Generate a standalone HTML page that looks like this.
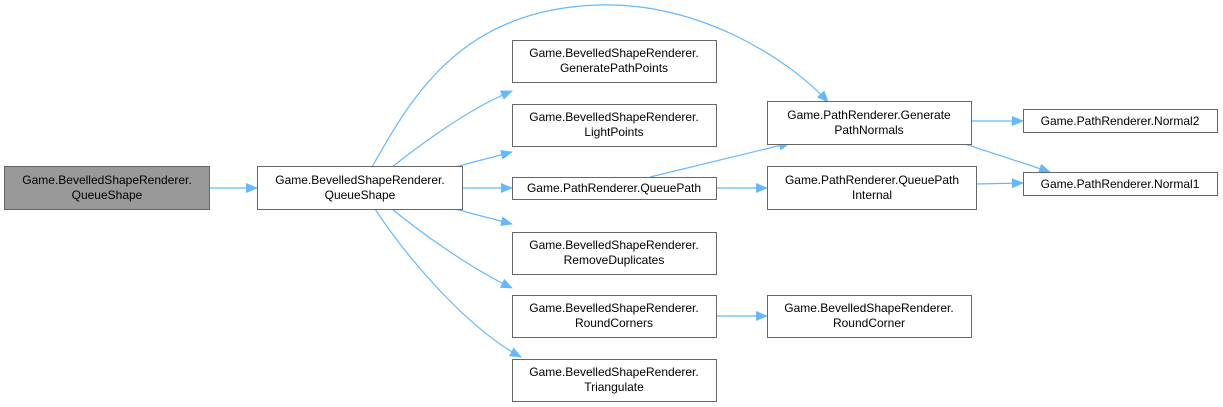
<!DOCTYPE html>
<html><head><meta charset="utf-8"><style>
html,body{margin:0;padding:0;background:#fff;}
svg{display:block;}
text{font-family:"Liberation Sans",sans-serif;font-size:12px;fill:#000;text-anchor:middle;}
rect{fill:#fff;stroke:#666;stroke-width:1;}
path.e{fill:none;stroke:#63b8ff;stroke-width:1.2;}
</style></head><body>
<svg width="1223" height="407" viewBox="0 0 1223 407">
<defs><marker id="a" markerWidth="12" markerHeight="10" refX="11" refY="5" orient="auto" markerUnits="userSpaceOnUse"><path d="M0,0 L12,5 L0,10 z" fill="#63b8ff"/></marker></defs>
<g>
<path class="e" marker-end="url(#a)" d="M209,188 L257,188"/>
<path class="e" marker-end="url(#a)" d="M392,167 C420,145 470,108 512,91"/>
<path class="e" marker-end="url(#a)" d="M455,167 L512,152"/>
<path class="e" marker-end="url(#a)" d="M462,188 L512,188"/>
<path class="e" marker-end="url(#a)" d="M455,209 L512,224"/>
<path class="e" marker-end="url(#a)" d="M392,209 C420,232 470,268 512,288"/>
<path class="e" marker-end="url(#a)" d="M375,209 C410,262 470,330 521,357"/>
<path class="e" marker-end="url(#a)" d="M372,167 C410,100 460,8 600,5 C700,2 790,60 828,102"/>
<path class="e" marker-end="url(#a)" d="M650,177 L790,143"/>
<path class="e" marker-end="url(#a)" d="M716,188 L767,188"/>
<path class="e" marker-end="url(#a)" d="M716,316 L767,316"/>
<path class="e" marker-end="url(#a)" d="M970,121 L1023,121"/>
<path class="e" marker-end="url(#a)" d="M965,144 L1050,172"/>
<path class="e" marker-end="url(#a)" d="M976,184 L1023,183"/>
</g>
<rect x="4.5" y="166.5" width="205" height="43" style="fill:#999"/>
<text x="107" y="184">Game.BevelledShapeRenderer.</text><text x="107" y="199">QueueShape</text>
<rect x="257.5" y="166.5" width="205" height="43"/>
<text x="360" y="184">Game.BevelledShapeRenderer.</text><text x="360" y="199">QueueShape</text>
<rect x="512.5" y="40.5" width="204" height="42"/>
<text x="614" y="57">Game.BevelledShapeRenderer.</text><text x="614" y="72">GeneratePathPoints</text>
<rect x="512.5" y="104.5" width="204" height="42"/>
<text x="614" y="121">Game.BevelledShapeRenderer.</text><text x="614" y="136">LightPoints</text>
<rect x="512.5" y="177.5" width="204" height="22"/>
<text x="614" y="192">Game.PathRenderer.QueuePath</text>
<rect x="512.5" y="232.5" width="204" height="42"/>
<text x="614" y="249">Game.BevelledShapeRenderer.</text><text x="614" y="264">RemoveDuplicates</text>
<rect x="512.5" y="295.5" width="204" height="42"/>
<text x="614" y="312">Game.BevelledShapeRenderer.</text><text x="614" y="327">RoundCorners</text>
<rect x="512.5" y="359.5" width="204" height="42"/>
<text x="614" y="376">Game.BevelledShapeRenderer.</text><text x="614" y="391">Triangulate</text>
<rect x="767.5" y="101.5" width="204" height="43"/>
<text x="869" y="119">Game.PathRenderer.Generate</text><text x="869" y="134">PathNormals</text>
<rect x="767.5" y="166.5" width="209" height="43"/>
<text x="872" y="184">Game.PathRenderer.QueuePath</text><text x="872" y="199">Internal</text>
<rect x="767.5" y="295.5" width="204" height="42"/>
<text x="869" y="312">Game.BevelledShapeRenderer.</text><text x="869" y="327">RoundCorner</text>
<rect x="1023.5" y="109.5" width="194" height="23"/>
<text x="1120" y="125">Game.PathRenderer.Normal2</text>
<rect x="1023.5" y="172.5" width="194" height="23"/>
<text x="1120" y="188">Game.PathRenderer.Normal1</text>
</svg>
</body></html>
